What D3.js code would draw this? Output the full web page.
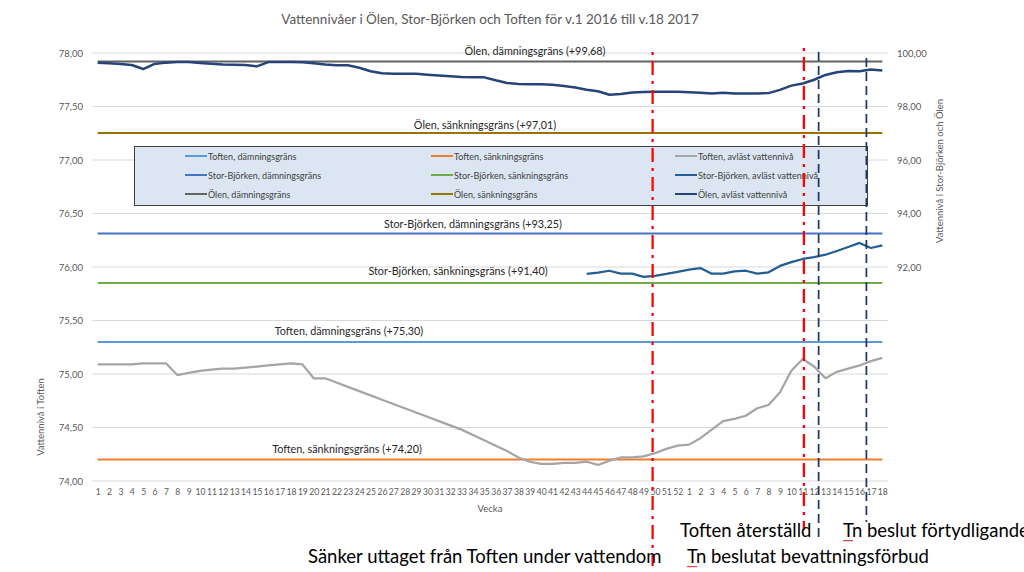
<!DOCTYPE html>
<html>
<head>
<meta charset="utf-8">
<script src="https://cdn.jsdelivr.net/npm/d3@7"></script>
<style>
    body {margin: 0; background: #fff;}
    svg {display: block;}
</style>
</head>
<body>
<svg id="chart" width="1024" height="572"></svg>
<script>
// veckor v.1 2016 - v.18 2017
const weekLabels = [
    "1","2","3","4","5","6","7","8","9","10","11","12","13","14","15","16","17","18","19","20",
    "21","22","23","24","25","26","27","28","29","30","31","32","33","34","35","36","37","38","39","40",
    "41","42","43","44","45","46","47","48","49","50","51","52",
    "1","2","3","4","5","6","7","8","9","10","11","12","13","14","15","16","17","18"
]

// avläst vattennivå, Toften (vänster axel)
const toftenLevel = [
    75.09, 75.09, 75.09, 75.09, 75.10, 75.10, 75.10, 74.99, 75.01, 75.03,
    75.04, 75.05, 75.05, 75.06, 75.07, 75.08, 75.09, 75.10, 75.09, 74.96,
    74.96, 74.92, 74.88, 74.84, 74.80, 74.76, 74.72, 74.68, 74.64, 74.60,
    74.56, 74.52, 74.48, 74.43, 74.38, 74.33, 74.28, 74.22, 74.18, 74.16,
    74.16, 74.17, 74.17, 74.18, 74.15, 74.19, 74.22, 74.22, 74.23, 74.26,
    74.30, 74.33, 74.34, 74.40, 74.48, 74.56, 74.58, 74.61, 74.68, 74.71,
    74.83, 75.03, 75.14, 75.07, 74.96, 75.02, 75.05, 75.08, 75.12, 75.15
]

// avläst vattennivå, Stor-Björken (höger axel), mätningar från v.44
const storBjorkenLevel = [
    null, null, null, null, null, null, null, null, null, null,
    null, null, null, null, null, null, null, null, null, null,
    null, null, null, null, null, null, null, null, null, null,
    null, null, null, null, null, null, null, null, null, null,
    null, null, null, 91.74, 91.79, 91.86, 91.75, 91.75, 91.63, 91.67,
    91.74, 91.82, 91.90, 91.96, 91.75, 91.75, 91.84, 91.86, 91.75, 91.80,
    92.04, 92.18, 92.30, 92.37, 92.46, 92.60, 92.75, 92.90, 92.71, 92.81
]

// avläst vattennivå, Ölen (höger axel)
const olenLevel = [
    99.64, 99.62, 99.59, 99.55, 99.40, 99.59, 99.64, 99.66, 99.66, 99.63,
    99.60, 99.57, 99.56, 99.55, 99.50, 99.66, 99.66, 99.66, 99.65, 99.62,
    99.57, 99.54, 99.54, 99.45, 99.32, 99.24, 99.22, 99.22, 99.22, 99.19,
    99.16, 99.13, 99.10, 99.09, 99.09, 98.98, 98.88, 98.84, 98.83, 98.83,
    98.81, 98.77, 98.71, 98.63, 98.57, 98.44, 98.47, 98.52, 98.54, 98.55,
    98.55, 98.55, 98.53, 98.51, 98.49, 98.51, 98.49, 98.49, 98.49, 98.50,
    98.62, 98.78, 98.86, 99.00, 99.18, 99.28, 99.33, 99.32, 99.38, 99.35
]

// gränser
const limitKeys = ["olenDam", "olenSank", "sbDam", "sbSank", "toftenDam", "toftenSank"]
const limitValues = [99.68, 97.01, 93.25, 91.40, 75.30, 74.20]
const limitAxis = ["right", "right", "right", "right", "left", "left"]
const limitLabels = [
    "Ölen, dämningsgräns (+99,68)",
    "Ölen, sänkningsgräns (+97,01)",
    "Stor-Björken, dämningsgräns (+93,25)",
    "Stor-Björken, sänkningsgräns (+91,40)",
    "Toften, dämningsgräns (+75,30)",
    "Toften, sänkningsgräns (+74,20)"
]

const leftTicks = [74, 74.5, 75, 75.5, 76, 76.5, 77, 77.5, 78]
const rightTicks = [92, 94, 96, 98, 100]

// legend, kolumnvis per rad
const legendLabels = [
    ["Toften, dämningsgräns", "Toften, sänkningsgräns", "Toften, avläst vattennivå"],
    ["Stor-Björken, dämningsgräns", "Stor-Björken, sänkningsgräns", "Stor-Björken, avläst vattennivå"],
    ["Ölen, dämningsgräns", "Ölen, sänkningsgräns", "Ölen, avläst vattennivå"]
]
const legendKeys = [
    ["toftenDam", "toftenSank", "toften"],
    ["sbDam", "sbSank", "sb"],
    ["olenDam", "olenSank", "olen"]
]

// händelser (veckoindex, kan ligga mellan veckor)
const eventWeeks = [48.8, 62.1, 63.4, 67.6]
const eventTypes = ["red", "red", "navy", "navy"]
const eventTexts = [
    "Sänker uttaget från Toften under vattendom",
    "Toften återställd",
    "Tn beslutat bevattningsförbud",
    "Tn beslut förtydligande"
]

const colors = {
    toftenDam: "#5b9bd5",
    toftenSank: "#ed7d31",
    toften: "#a5a5a5",
    sbDam: "#4472c4",
    sbSank: "#70ad47",
    sb: "#255e91",
    olenDam: "#636363",
    olenSank: "#997300",
    olen: "#264478"
}

const font = "Lato, 'Open Sans', sans-serif"
const svg = d3.select("#chart")
const plot = {left: 92, right: 888, top: 53, bottom: 481}

const x = d3.scalePoint()
    .domain(d3.range(weekLabels.length))
    .range([plot.left, plot.right])
    .padding(0.5)
const xAt = (i) => x(0) + i * x.step()

const yLeft = d3.scaleLinear().domain([74, 78]).range([plot.bottom, plot.top])
const yRight = d3.scaleLinear().domain([84, 100]).range([plot.bottom, plot.top])

// title
svg.append("text")
    .attr("x", 490).attr("y", 24)
    .attr("text-anchor", "middle")
    .style("font-family", font).style("font-size", "13.5px").style("fill", "#595959")
    .text("Vattennivåer i Ölen, Stor-Björken och Toften för v.1 2016 till v.18 2017")

// gridlines
svg.append("g")
    .selectAll("line")
    .data(leftTicks)
    .enter()
    .append("line")
    .attr("x1", plot.left).attr("x2", plot.right)
    .attr("y1", d => yLeft(d)).attr("y2", d => yLeft(d))
    .style("stroke", "#d9d9d9").style("stroke-width", 1)

// Add the left Y axis
const leftAxis = svg.append("g")
    .attr("transform", "translate(" + (plot.left - 4) + ",0)")
    .call(d3.axisLeft(yLeft).tickValues(leftTicks).tickFormat(d => d3.format(".2f")(d).replace(".", ",")).tickSize(0).tickPadding(5))
leftAxis.select(".domain").remove()
leftAxis.selectAll("text")
    .style("font-family", font).style("font-size", "9.5px").style("fill", "#595959")

// Add the right Y axis
const rightAxis = svg.append("g")
    .attr("transform", "translate(" + (plot.right + 5) + ",0)")
    .call(d3.axisRight(yRight).tickValues(rightTicks).tickFormat(d => d3.format(".2f")(d).replace(".", ",")).tickSize(0).tickPadding(4))
rightAxis.select(".domain").remove()
rightAxis.selectAll("text")
    .style("font-family", font).style("font-size", "9.5px").style("fill", "#595959")

// Add the X axis
const xAxis = svg.append("g")
    .attr("transform", "translate(0," + plot.bottom + ")")
    .call(d3.axisBottom(x).tickFormat(i => weekLabels[i]).tickSize(0).tickPadding(8))
xAxis.select(".domain").remove()
xAxis.selectAll("text")
    .style("font-family", font).style("font-size", "8.6px").style("fill", "#595959")

// axis titles
svg.append("text")
    .attr("transform", "translate(44,417) rotate(-90)")
    .attr("text-anchor", "middle")
    .style("font-family", font).style("font-size", "9.5px").style("fill", "#595959")
    .text("Vattennivå i Toften")
svg.append("text")
    .attr("transform", "translate(943,171) rotate(-90)")
    .attr("text-anchor", "middle")
    .style("font-family", font).style("font-size", "9.5px").style("fill", "#595959")
    .text("Vattennivå i Stor-Björken och Ölen")
svg.append("text")
    .attr("x", 490).attr("y", 512)
    .attr("text-anchor", "middle")
    .style("font-family", font).style("font-size", "9.5px").style("fill", "#595959")
    .text("Vecka")

// limit lines
const first = x(0), last = x(weekLabels.length - 1)
limitValues.forEach((v, i) => {
    const y = limitAxis[i] === "left" ? yLeft(v) : yRight(v)
    svg.append("line")
        .attr("x1", first).attr("x2", last)
        .attr("y1", y).attr("y2", y)
        .style("stroke", colors[limitKeys[i]]).style("stroke-width", 2)
})

// data lines
const appendSeries = (values, scale, color, width) => {
    const line = d3.line()
        .defined(d => d !== null)
        .x((d, i) => x(i))
        .y(d => scale(d))
        .curve(d3.curveLinear)
    svg.append("path")
        .datum(values)
        .attr("d", line)
        .style("fill", "none")
        .style("stroke", color)
        .style("stroke-width", width)
        .style("stroke-linejoin", "round")
}
appendSeries(toftenLevel, yLeft, colors.toften, 2.25)
appendSeries(storBjorkenLevel, yRight, colors.sb, 2.25)
appendSeries(olenLevel, yRight, colors.olen, 2.5)

// limit labels
const labelPos = [[535, 55], [485, 129], [473, 228], [458, 275], [349, 335], [347, 453]]
limitLabels.forEach((t, i) => {
    svg.append("text")
        .attr("x", labelPos[i][0]).attr("y", labelPos[i][1])
        .attr("text-anchor", "middle")
        .style("font-family", font).style("font-size", "10.8px").style("fill", "#262626")
        .text(t)
})

// legend
const legend = svg.append("g")
legend.append("rect")
    .attr("x", 134.5).attr("y", 146.5).attr("width", 733).attr("height", 59)
    .style("fill", "#dce6f2").style("stroke", "#404040").style("stroke-width", 1)
const colX = [185, 431, 675]
const rowY = [156, 175, 194]
legendLabels.forEach((row, r) => {
    row.forEach((t, c) => {
        legend.append("line")
            .attr("x1", colX[c]).attr("x2", colX[c] + 22)
            .attr("y1", rowY[r]).attr("y2", rowY[r])
            .style("stroke", colors[legendKeys[r][c]]).style("stroke-width", 2)
        legend.append("text")
            .attr("x", colX[c] + 23).attr("y", rowY[r] + 3.5)
            .style("font-family", font).style("font-size", "9px").style("fill", "#404040")
            .text(t)
    })
})

// event lines
const eventExtent = [[52, 566], [48, 530], [52, 540], [58, 522]]
eventWeeks.forEach((w, i) => {
    const red = eventTypes[i] === "red"
    svg.append("line")
        .attr("x1", xAt(w)).attr("x2", xAt(w))
        .attr("y1", eventExtent[i][0]).attr("y2", eventExtent[i][1])
        .style("stroke", red ? "#ff0000" : "#1f3864")
        .style("stroke-width", red ? 2.25 : 1.75)
        .style("stroke-dasharray", red ? "3,6,14,6" : "9,5")
})

// event texts
const eventTextPos = [[308, 563], [680, 537], [687, 563], [843, 537]]
eventTexts.forEach((t, i) => {
    const txt = svg.append("text")
        .attr("x", eventTextPos[i][0]).attr("y", eventTextPos[i][1])
        .style("font-family", font).style("font-size", "18.5px").style("fill", "#000")
    if (t.startsWith("Tn ")) {
        const tn = txt.append("tspan").text("Tn")
        txt.append("tspan").text(t.slice(2))
        const w = tn.node().getComputedTextLength()
        const x0 = eventTextPos[i][0], y0 = eventTextPos[i][1] + 3
        let d = "M" + x0 + "," + y0
        for (let k = 0; k * 2 < w; k++) d += " l1," + (k % 2 ? -1.2 : 1.2)
        svg.append("path").attr("d", d)
            .style("fill", "none").style("stroke", "#e02020").style("stroke-width", 0.9)
    } else {
        txt.text(t)
    }
})
</script>
</body>
</html>
